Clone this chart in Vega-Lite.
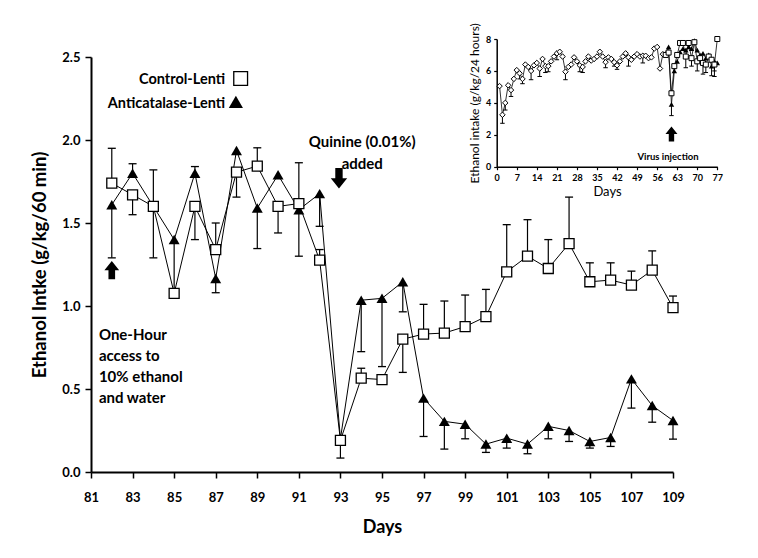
{
  "$schema": "https://vega.github.io/schema/vega-lite/v6.json",
  "width": 582,
  "height": 415,
  "autosize": "none",
  "padding": {"left": 91, "top": 57, "right": 85, "bottom": 86},
  "background": "white",
  "config": {
    "view": {"stroke": null},
    "font": "Lato",
    "axis": {"grid": false, "domainColor": "black", "tickColor": "black", "labelColor": "black", "titleColor": "black", "labelFlush": false, "labelOverlap": false}
  },
  "datasets": {
    "main": [
      {"day": 82, "group": "Control-Lenti", "mean": 1.74, "cap": 1.95},
      {"day": 83, "group": "Control-Lenti", "mean": 1.67, "cap": 1.55},
      {"day": 84, "group": "Control-Lenti", "mean": 1.60, "cap": 1.82},
      {"day": 85, "group": "Control-Lenti", "mean": 1.076, "cap": null},
      {"day": 86, "group": "Control-Lenti", "mean": 1.60, "cap": 1.40},
      {"day": 87, "group": "Control-Lenti", "mean": 1.34, "cap": 1.50},
      {"day": 88, "group": "Control-Lenti", "mean": 1.806, "cap": 1.656},
      {"day": 89, "group": "Control-Lenti", "mean": 1.843, "cap": 1.953},
      {"day": 90, "group": "Control-Lenti", "mean": 1.60, "cap": 1.44},
      {"day": 91, "group": "Control-Lenti", "mean": 1.617, "cap": 1.863},
      {"day": 92, "group": "Control-Lenti", "mean": 1.276, "cap": 1.34},
      {"day": 93, "group": "Control-Lenti", "mean": 0.19, "cap": 0.084},
      {"day": 94, "group": "Control-Lenti", "mean": 0.565, "cap": 0.625},
      {"day": 95, "group": "Control-Lenti", "mean": 0.557, "cap": null},
      {"day": 96, "group": "Control-Lenti", "mean": 0.80, "cap": 0.60},
      {"day": 97, "group": "Control-Lenti", "mean": 0.831, "cap": 1.01},
      {"day": 98, "group": "Control-Lenti", "mean": 0.837, "cap": 1.03},
      {"day": 99, "group": "Control-Lenti", "mean": 0.876, "cap": 1.066},
      {"day": 100, "group": "Control-Lenti", "mean": 0.936, "cap": 1.10},
      {"day": 101, "group": "Control-Lenti", "mean": 1.206, "cap": 1.49},
      {"day": 102, "group": "Control-Lenti", "mean": 1.30, "cap": 1.52},
      {"day": 103, "group": "Control-Lenti", "mean": 1.226, "cap": 1.40},
      {"day": 104, "group": "Control-Lenti", "mean": 1.376, "cap": 1.656},
      {"day": 105, "group": "Control-Lenti", "mean": 1.146, "cap": 1.26},
      {"day": 106, "group": "Control-Lenti", "mean": 1.156, "cap": 1.26},
      {"day": 107, "group": "Control-Lenti", "mean": 1.126, "cap": 1.21},
      {"day": 108, "group": "Control-Lenti", "mean": 1.216, "cap": 1.332},
      {"day": 109, "group": "Control-Lenti", "mean": 0.99, "cap": 1.06},
      {"day": 82, "group": "Anticatalase-Lenti", "mean": 1.61, "cap": 1.29},
      {"day": 83, "group": "Anticatalase-Lenti", "mean": 1.80, "cap": 1.857},
      {"day": 84, "group": "Anticatalase-Lenti", "mean": 1.60, "cap": 1.29},
      {"day": 85, "group": "Anticatalase-Lenti", "mean": 1.40, "cap": 1.10},
      {"day": 86, "group": "Anticatalase-Lenti", "mean": 1.80, "cap": 1.84},
      {"day": 87, "group": "Anticatalase-Lenti", "mean": 1.166, "cap": 1.08},
      {"day": 88, "group": "Anticatalase-Lenti", "mean": 1.937, "cap": null},
      {"day": 89, "group": "Anticatalase-Lenti", "mean": 1.59, "cap": 1.346},
      {"day": 90, "group": "Anticatalase-Lenti", "mean": 1.79, "cap": null},
      {"day": 91, "group": "Anticatalase-Lenti", "mean": 1.58, "cap": 1.30},
      {"day": 92, "group": "Anticatalase-Lenti", "mean": 1.677, "cap": 1.48},
      {"day": 93, "group": "Anticatalase-Lenti", "mean": 0.20, "cap": null},
      {"day": 94, "group": "Anticatalase-Lenti", "mean": 1.035, "cap": 0.725},
      {"day": 95, "group": "Anticatalase-Lenti", "mean": 1.046, "cap": 0.635},
      {"day": 96, "group": "Anticatalase-Lenti", "mean": 1.146, "cap": 0.965},
      {"day": 97, "group": "Anticatalase-Lenti", "mean": 0.445, "cap": 0.214},
      {"day": 98, "group": "Anticatalase-Lenti", "mean": 0.305, "cap": 0.138},
      {"day": 99, "group": "Anticatalase-Lenti", "mean": 0.288, "cap": 0.20},
      {"day": 100, "group": "Anticatalase-Lenti", "mean": 0.168, "cap": 0.118},
      {"day": 101, "group": "Anticatalase-Lenti", "mean": 0.204, "cap": 0.144},
      {"day": 102, "group": "Anticatalase-Lenti", "mean": 0.168, "cap": 0.11},
      {"day": 103, "group": "Anticatalase-Lenti", "mean": 0.275, "cap": 0.20},
      {"day": 104, "group": "Anticatalase-Lenti", "mean": 0.25, "cap": 0.184},
      {"day": 105, "group": "Anticatalase-Lenti", "mean": 0.184, "cap": 0.144},
      {"day": 106, "group": "Anticatalase-Lenti", "mean": 0.208, "cap": 0.154},
      {"day": 107, "group": "Anticatalase-Lenti", "mean": 0.561, "cap": 0.385},
      {"day": 108, "group": "Anticatalase-Lenti", "mean": 0.40, "cap": 0.30},
      {"day": 109, "group": "Anticatalase-Lenti", "mean": 0.31, "cap": 0.198}
    ],
    "inset": [
      {"day": 1, "group": "Baseline", "mean": 5.05, "cap": null},
      {"day": 2, "group": "Baseline", "mean": 3.25, "cap": 2.72},
      {"day": 3, "group": "Baseline", "mean": 4.0, "cap": 3.55},
      {"day": 4, "group": "Baseline", "mean": 5.1, "cap": null},
      {"day": 5, "group": "Baseline", "mean": 4.8, "cap": 4.4},
      {"day": 6, "group": "Baseline", "mean": 5.5, "cap": null},
      {"day": 7, "group": "Baseline", "mean": 6.05, "cap": null},
      {"day": 8, "group": "Baseline", "mean": 5.85, "cap": 5.5},
      {"day": 9, "group": "Baseline", "mean": 5.5, "cap": 5.2},
      {"day": 10, "group": "Baseline", "mean": 6.4, "cap": null},
      {"day": 11, "group": "Baseline", "mean": 6.25, "cap": null},
      {"day": 12, "group": "Baseline", "mean": 6.0, "cap": 5.45},
      {"day": 13, "group": "Baseline", "mean": 6.35, "cap": null},
      {"day": 14, "group": "Baseline", "mean": 6.5, "cap": null},
      {"day": 15, "group": "Baseline", "mean": 6.15, "cap": 5.65},
      {"day": 16, "group": "Baseline", "mean": 6.75, "cap": null},
      {"day": 17, "group": "Baseline", "mean": 6.3, "cap": 5.9},
      {"day": 18, "group": "Baseline", "mean": 6.3, "cap": 5.95},
      {"day": 19, "group": "Baseline", "mean": 6.6, "cap": null},
      {"day": 20, "group": "Baseline", "mean": 6.9, "cap": null},
      {"day": 21, "group": "Baseline", "mean": 7.1, "cap": 6.7},
      {"day": 22, "group": "Baseline", "mean": 7.2, "cap": null},
      {"day": 23, "group": "Baseline", "mean": 6.9, "cap": null},
      {"day": 24, "group": "Baseline", "mean": 5.95, "cap": 5.45},
      {"day": 25, "group": "Baseline", "mean": 6.25, "cap": null},
      {"day": 26, "group": "Baseline", "mean": 6.4, "cap": null},
      {"day": 27, "group": "Baseline", "mean": 6.85, "cap": null},
      {"day": 28, "group": "Baseline", "mean": 6.6, "cap": null},
      {"day": 29, "group": "Baseline", "mean": 6.35, "cap": 5.95},
      {"day": 30, "group": "Baseline", "mean": 6.25, "cap": 5.9},
      {"day": 31, "group": "Baseline", "mean": 6.6, "cap": null},
      {"day": 32, "group": "Baseline", "mean": 6.9, "cap": null},
      {"day": 33, "group": "Baseline", "mean": 6.65, "cap": null},
      {"day": 34, "group": "Baseline", "mean": 6.75, "cap": null},
      {"day": 35, "group": "Baseline", "mean": 6.9, "cap": null},
      {"day": 36, "group": "Baseline", "mean": 7.2, "cap": null},
      {"day": 37, "group": "Baseline", "mean": 6.9, "cap": null},
      {"day": 38, "group": "Baseline", "mean": 6.55, "cap": 6.2},
      {"day": 39, "group": "Baseline", "mean": 6.85, "cap": null},
      {"day": 40, "group": "Baseline", "mean": 6.75, "cap": null},
      {"day": 41, "group": "Baseline", "mean": 6.55, "cap": 6.3},
      {"day": 42, "group": "Baseline", "mean": 6.35, "cap": 6.1},
      {"day": 43, "group": "Baseline", "mean": 6.6, "cap": null},
      {"day": 44, "group": "Baseline", "mean": 6.9, "cap": null},
      {"day": 45, "group": "Baseline", "mean": 7.1, "cap": null},
      {"day": 46, "group": "Baseline", "mean": 6.85, "cap": 6.3},
      {"day": 47, "group": "Baseline", "mean": 6.7, "cap": null},
      {"day": 48, "group": "Baseline", "mean": 6.9, "cap": null},
      {"day": 49, "group": "Baseline", "mean": 7.05, "cap": null},
      {"day": 50, "group": "Baseline", "mean": 6.9, "cap": null},
      {"day": 51, "group": "Baseline", "mean": 6.95, "cap": 6.5},
      {"day": 52, "group": "Baseline", "mean": 6.95, "cap": null},
      {"day": 53, "group": "Baseline", "mean": 6.8, "cap": null},
      {"day": 54, "group": "Baseline", "mean": 6.85, "cap": null},
      {"day": 55, "group": "Baseline", "mean": 7.4, "cap": null},
      {"day": 56, "group": "Baseline", "mean": 7.5, "cap": null},
      {"day": 57, "group": "Baseline", "mean": 6.15, "cap": null},
      {"day": 58, "group": "Baseline", "mean": 7.05, "cap": null},
      {"day": 59, "group": "Control-Lenti", "mean": 7.0, "cap": null},
      {"day": 60, "group": "Control-Lenti", "mean": 7.15, "cap": null},
      {"day": 61, "group": "Control-Lenti", "mean": 4.6, "cap": null},
      {"day": 62, "group": "Control-Lenti", "mean": 6.3, "cap": null},
      {"day": 63, "group": "Control-Lenti", "mean": 7.0, "cap": null},
      {"day": 64, "group": "Control-Lenti", "mean": 7.75, "cap": null},
      {"day": 65, "group": "Control-Lenti", "mean": 7.75, "cap": null},
      {"day": 66, "group": "Control-Lenti", "mean": 6.9, "cap": 6.2},
      {"day": 67, "group": "Control-Lenti", "mean": 7.75, "cap": null},
      {"day": 68, "group": "Control-Lenti", "mean": 6.8, "cap": 6.3},
      {"day": 69, "group": "Control-Lenti", "mean": 7.8, "cap": null},
      {"day": 70, "group": "Control-Lenti", "mean": 6.6, "cap": 6.0},
      {"day": 71, "group": "Control-Lenti", "mean": 6.8, "cap": null},
      {"day": 72, "group": "Control-Lenti", "mean": 6.5, "cap": 5.8},
      {"day": 73, "group": "Control-Lenti", "mean": 6.4, "cap": 5.9},
      {"day": 74, "group": "Control-Lenti", "mean": 6.9, "cap": null},
      {"day": 75, "group": "Control-Lenti", "mean": 6.7, "cap": null},
      {"day": 76, "group": "Control-Lenti", "mean": 6.4, "cap": 6.0},
      {"day": 77, "group": "Control-Lenti", "mean": 8.0, "cap": null},
      {"day": 59, "group": "Anticatalase-Lenti", "mean": 7.1, "cap": null},
      {"day": 60, "group": "Anticatalase-Lenti", "mean": 7.5, "cap": null},
      {"day": 61, "group": "Anticatalase-Lenti", "mean": 3.9, "cap": 3.2},
      {"day": 62, "group": "Anticatalase-Lenti", "mean": 6.0, "cap": null},
      {"day": 63, "group": "Anticatalase-Lenti", "mean": 6.6, "cap": null},
      {"day": 64, "group": "Anticatalase-Lenti", "mean": 7.2, "cap": null},
      {"day": 65, "group": "Anticatalase-Lenti", "mean": 7.4, "cap": null},
      {"day": 66, "group": "Anticatalase-Lenti", "mean": 7.3, "cap": null},
      {"day": 67, "group": "Anticatalase-Lenti", "mean": 7.5, "cap": null},
      {"day": 68, "group": "Anticatalase-Lenti", "mean": 7.4, "cap": null},
      {"day": 69, "group": "Anticatalase-Lenti", "mean": 7.9, "cap": null},
      {"day": 70, "group": "Anticatalase-Lenti", "mean": 7.3, "cap": null},
      {"day": 71, "group": "Anticatalase-Lenti", "mean": 7.0, "cap": null},
      {"day": 72, "group": "Anticatalase-Lenti", "mean": 7.1, "cap": null},
      {"day": 73, "group": "Anticatalase-Lenti", "mean": 6.8, "cap": null},
      {"day": 74, "group": "Anticatalase-Lenti", "mean": 7.0, "cap": null},
      {"day": 75, "group": "Anticatalase-Lenti", "mean": 6.3, "cap": 5.7},
      {"day": 76, "group": "Anticatalase-Lenti", "mean": 6.6, "cap": 5.65},
      {"day": 77, "group": "Anticatalase-Lenti", "mean": 6.5, "cap": null}
    ]
  },
  "layer": [
    {
      "data": {"name": "main"},
      "layer": [
        {
          "transform": [{"filter": "isValid(datum.cap)"}],
          "mark": {"type": "rule", "color": "black", "strokeWidth": 1.2},
          "encoding": {
            "x": {"field": "day", "type": "quantitative", "scale": {"domain": [81, 109], "nice": false, "zero": false},
              "axis": {"values": [81, 83, 85, 87, 89, 91, 93, 95, 97, 99, 101, 103, 105, 107, 109], "title": "Days", "domainWidth": 2, "tickWidth": 1.5, "tickSize": 6, "labelFont": "Lato", "labelFontWeight": "bold", "labelFontSize": 13, "labelPadding": 13, "titleFont": "Lato", "titleFontSize": 18, "titleFontWeight": "bold", "titlePadding": 14}},
            "y": {"field": "mean", "type": "quantitative", "scale": {"domain": [0, 2.5], "nice": false, "zero": true},
              "axis": {"values": [0, 0.5, 1, 1.5, 2, 2.5], "format": ".1f", "title": "Ethanol Intke (g/kg/60 min)", "domainWidth": 2, "tickWidth": 1.5, "tickSize": 6, "labelFont": "Lato", "labelFontWeight": "bold", "labelFontSize": 13, "labelPadding": 5, "titleFont": "Lato", "titleFontSize": 18.5, "titleFontWeight": "bold", "titlePadding": 12}},
            "y2": {"field": "cap"}
          }
        },
        {
          "transform": [{"filter": "isValid(datum.cap)"}],
          "mark": {"type": "point", "shape": "stroke", "size": 64, "strokeWidth": 1.3, "color": "black", "opacity": 1},
          "encoding": {
            "x": {"field": "day", "type": "quantitative", "scale": {"domain": [81, 109], "nice": false, "zero": false}},
            "y": {"field": "cap", "type": "quantitative", "scale": {"domain": [0, 2.5], "nice": false, "zero": true}}
          }
        },
        {
          "mark": {"type": "line", "color": "black", "strokeWidth": 1},
          "encoding": {
            "x": {"field": "day", "type": "quantitative", "scale": {"domain": [81, 109], "nice": false, "zero": false}},
            "y": {"field": "mean", "type": "quantitative", "scale": {"domain": [0, 2.5], "nice": false, "zero": true}},
            "detail": {"field": "group"}
          }
        },
        {
          "transform": [{"filter": "datum.group === 'Anticatalase-Lenti'"}],
          "mark": {"type": "point", "shape": "triangle-up", "size": 120, "filled": true, "color": "black", "opacity": 1},
          "encoding": {
            "x": {"field": "day", "type": "quantitative", "scale": {"domain": [81, 109], "nice": false, "zero": false}},
            "y": {"field": "mean", "type": "quantitative", "scale": {"domain": [0, 2.5], "nice": false, "zero": true}}
          }
        },
        {
          "transform": [{"filter": "datum.group === 'Control-Lenti'"}],
          "mark": {"type": "point", "shape": "square", "size": 100, "filled": true, "fill": "white", "stroke": "black", "strokeWidth": 1.3, "opacity": 1},
          "encoding": {
            "x": {"field": "day", "type": "quantitative", "scale": {"domain": [81, 109], "nice": false, "zero": false}},
            "y": {"field": "mean", "type": "quantitative", "scale": {"domain": [0, 2.5], "nice": false, "zero": true}}
          }
        },
        {
          "data": {"values": [{}]},
          "layer": [
            {"mark": {"type": "text", "align": "right", "baseline": "middle", "font": "Lato", "fontWeight": "bold", "fontSize": 14.5, "color": "black"},
             "encoding": {"x": {"datum": 87.45}, "y": {"datum": 2.36}, "text": {"value": "Control-Lenti"}}},
            {"mark": {"type": "text", "align": "right", "baseline": "middle", "font": "Lato", "fontWeight": "bold", "fontSize": 14.5, "color": "black"},
             "encoding": {"x": {"datum": 87.45}, "y": {"datum": 2.215}, "text": {"value": "Anticatalase-Lenti"}}},
            {"mark": {"type": "point", "shape": "square", "size": 190, "filled": true, "fill": "white", "stroke": "black", "strokeWidth": 1.3, "opacity": 1},
             "encoding": {"x": {"datum": 88.2}, "y": {"datum": 2.37}}},
            {"mark": {"type": "point", "shape": "triangle-up", "size": 200, "filled": true, "color": "black", "opacity": 1},
             "encoding": {"x": {"datum": 87.97}, "y": {"datum": 2.23}}},
            {"mark": {"type": "text", "align": "left", "baseline": "middle", "font": "Lato", "fontWeight": "bold", "fontSize": 15, "lineHeight": 21, "color": "black"},
             "encoding": {"x": {"datum": 81.38}, "y": {"datum": 0.828}, "text": {"value": ["One-Hour", "access to", "10% ethanol", "and water"]}}},
            {"mark": {"type": "text", "align": "center", "baseline": "middle", "font": "Lato", "fontWeight": "bold", "fontSize": 15, "lineHeight": 22, "color": "black"},
             "encoding": {"x": {"datum": 94.05}, "y": {"datum": 1.99}, "text": {"value": ["Quinine (0.01%)", "added"]}}},
            {"mark": {"type": "point", "shape": "M-0.36,1L0.36,1L0.36,0L0.8,0L0,-1L-0.8,0L-0.36,0Z", "size": 340, "filled": true, "color": "black", "opacity": 1},
             "encoding": {"x": {"datum": 82}, "y": {"datum": 1.216}}},
            {"mark": {"type": "point", "shape": "M-0.36,-1L0.36,-1L0.36,0L0.8,0L0,1L-0.8,0L-0.36,0Z", "size": 420, "filled": true, "color": "black", "opacity": 1},
             "encoding": {"x": {"datum": 92.93}, "y": {"datum": 1.77}}}
          ]
        }
      ]
    },
    {
      "data": {"name": "inset"},
      "layer": [
        {
          "transform": [{"filter": "isValid(datum.cap)"}],
          "mark": {"type": "rule", "color": "black", "strokeWidth": 1},
          "encoding": {
            "x": {"field": "day", "type": "quantitative", "scale": {"domain": [0, 77], "range": [405.7, 626.3], "nice": false, "zero": false},
              "axis": {"orient": "bottom", "offset": -305.3, "values": [0, 7, 14, 21, 28, 35, 42, 49, 56, 63, 70, 77], "title": "Days", "domainWidth": 1.5, "tickWidth": 1.2, "tickSize": 3, "labelFont": "Lato", "labelFontWeight": "bold", "labelFontSize": 9, "labelPadding": 4, "titleFont": "Lato", "titleFontSize": 13, "titleFontWeight": "normal", "titlePadding": 3}},
            "y": {"field": "mean", "type": "quantitative", "scale": {"domain": [0, 8], "range": [109.7, -18], "nice": false, "zero": true},
              "axis": {"orient": "left", "offset": -405.7, "values": [0, 2, 4, 6, 8], "title": "Ethanol intake (g/kg/24 hours)", "domainWidth": 1.5, "tickWidth": 1.2, "tickSize": 3, "labelFont": "Lato", "labelFontWeight": "bold", "labelFontSize": 9, "labelPadding": 3, "titleFont": "Lato", "titleFontSize": 12, "titleFontWeight": "normal", "titlePadding": 4}},
            "y2": {"field": "cap"}
          }
        },
        {
          "transform": [{"filter": "isValid(datum.cap)"}],
          "mark": {"type": "point", "shape": "stroke", "size": 20, "strokeWidth": 1, "color": "black", "opacity": 1},
          "encoding": {
            "x": {"field": "day", "type": "quantitative", "scale": {"domain": [0, 77], "range": [405.7, 626.3], "nice": false, "zero": false}},
            "y": {"field": "cap", "type": "quantitative", "scale": {"domain": [0, 8], "range": [109.7, -18], "nice": false, "zero": true}}
          }
        },
        {
          "mark": {"type": "line", "color": "black", "strokeWidth": 0.8},
          "encoding": {
            "x": {"field": "day", "type": "quantitative", "scale": {"domain": [0, 77], "range": [405.7, 626.3], "nice": false, "zero": false}},
            "y": {"field": "mean", "type": "quantitative", "scale": {"domain": [0, 8], "range": [109.7, -18], "nice": false, "zero": true}},
            "detail": {"field": "group"}
          }
        },
        {
          "transform": [{"filter": "datum.group === 'Baseline'"}],
          "mark": {"type": "point", "shape": "diamond", "size": 30, "filled": true, "fill": "white", "stroke": "black", "strokeWidth": 1, "opacity": 1},
          "encoding": {
            "x": {"field": "day", "type": "quantitative", "scale": {"domain": [0, 77], "range": [405.7, 626.3], "nice": false, "zero": false}},
            "y": {"field": "mean", "type": "quantitative", "scale": {"domain": [0, 8], "range": [109.7, -18], "nice": false, "zero": true}}
          }
        },
        {
          "transform": [{"filter": "datum.group === 'Anticatalase-Lenti'"}],
          "mark": {"type": "point", "shape": "triangle-up", "size": 30, "filled": true, "color": "black", "opacity": 1},
          "encoding": {
            "x": {"field": "day", "type": "quantitative", "scale": {"domain": [0, 77], "range": [405.7, 626.3], "nice": false, "zero": false}},
            "y": {"field": "mean", "type": "quantitative", "scale": {"domain": [0, 8], "range": [109.7, -18], "nice": false, "zero": true}}
          }
        },
        {
          "transform": [{"filter": "datum.group === 'Control-Lenti'"}],
          "mark": {"type": "point", "shape": "square", "size": 25, "filled": true, "fill": "white", "stroke": "black", "strokeWidth": 1, "opacity": 1},
          "encoding": {
            "x": {"field": "day", "type": "quantitative", "scale": {"domain": [0, 77], "range": [405.7, 626.3], "nice": false, "zero": false}},
            "y": {"field": "mean", "type": "quantitative", "scale": {"domain": [0, 8], "range": [109.7, -18], "nice": false, "zero": true}}
          }
        },
        {
          "data": {"values": [{}]},
          "layer": [
            {"mark": {"type": "text", "align": "center", "baseline": "middle", "font": "Lato", "fontWeight": "bold", "fontSize": 9.5, "color": "black"},
             "encoding": {"x": {"datum": 59.8}, "y": {"datum": 0.59}, "text": {"value": "Virus injection"}}},
            {"mark": {"type": "point", "shape": "M-0.36,1L0.36,1L0.36,0L0.8,0L0,-1L-0.8,0L-0.36,0Z", "size": 225, "filled": true, "color": "black", "opacity": 1},
             "encoding": {"x": {"datum": 61}, "y": {"datum": 2.05}}}
          ]
        }
      ]
    }
  ],
  "resolve": {"scale": {"x": "independent", "y": "independent"}, "axis": {"x": "independent", "y": "independent"}}
}
